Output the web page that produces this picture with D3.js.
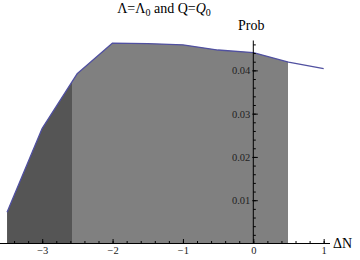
<!DOCTYPE html>
<html lang="en">
  <head>
    <meta charset="utf-8">
    <script src="https://d3js.org/d3.v7.min.js"></script>
    <style>
      body { margin: 0; background: white; }
      text { font-family: "Liberation Serif", "DejaVu Serif", serif; }
    </style>
    <title>Prob vs dN</title>
  </head>
  <body>
    <div id="chart"></div>
  <script>

    // values
    const dN = [-3.5, -3, -2.5, -2, -1.5, -1, -0.5, 0, 0.5, 1];
    const prob = [0.0072, 0.0266, 0.0393, 0.0463, 0.0462, 0.0459, 0.0447, 0.0441, 0.0419, 0.0404];
    const darkRange = [-3.5, -2.57];
    const lightRange = [-2.57, 0.5];
    const xTicks = [-3, -2, -1, 0, 1];
    const yTicks = [0.01, 0.02, 0.03, 0.04];

    const width = 360, height = 260;

    const data = dN.map((d, i) => ({x: d, y: prob[i]}));

    const svg = d3.select("#chart")
      .append("svg")
        .attr("width", width)
        .attr("height", height);

    const x = d3.scaleLinear()
      .domain([-3.6, 1.09])
      .range([0, 330]);

    const y = d3.scaleLinear()
      .domain([0, 0.0469])
      .range([243.5, 40.5]);

    // clip regions for the two shaded bands (snapped to whole pixels so no seam shows)
    const defs = svg.append("defs");
    [["clipDark", darkRange], ["clipLight", lightRange]].forEach(function(c) {
      const x0 = Math.round(x(c[1][0])), x1 = Math.round(x(c[1][1]));
      defs.append("clipPath").attr("id", c[0])
        .append("rect")
          .attr("x", x0)
          .attr("y", 0)
          .attr("width", x1 - x0)
          .attr("height", y(0));
    });

    const area = d3.area()
      .x(d => x(d.x))
      .y0(y(0))
      .y1(d => y(d.y));

    svg.append("path")
      .datum(data)
      .attr("fill", "#555555")
      .attr("clip-path", "url(#clipDark)")
      .attr("d", area);

    svg.append("path")
      .datum(data)
      .attr("fill", "#808080")
      .attr("clip-path", "url(#clipLight)")
      .attr("d", area);

    svg.append("path")
      .datum(data)
      .attr("fill", "none")
      .attr("stroke", "#5050a0")
      .attr("stroke-width", 1.3)
      .attr("stroke-linejoin", "round")
      .attr("d", d3.line()
        .x(d => x(d.x))
        .y(d => y(d.y)));

    // x axis: ticks point up, Mathematica style
    const xMinor = d3.range(-3.4, 1.01, 0.2).map(v => Math.round(v * 10) / 10);
    svg.append("g")
      .attr("transform", `translate(0,${y(0)})`)
      .call(d3.axisBottom(x).tickValues(xMinor).tickSize(-2.5).tickSizeOuter(0).tickFormat(""))
      .call(g => g.select(".domain").attr("d", `M0,0H330`));

    const gx = svg.append("g")
      .attr("transform", `translate(0,${y(0)})`)
      .call(d3.axisBottom(x).tickValues(xTicks).tickSize(-4.5).tickSizeOuter(0).tickPadding(3).tickFormat(d3.format("d")));
    gx.select(".domain").remove();

    // y axis at dN = 0
    const yMinor = d3.range(0.002, 0.0465, 0.002).map(v => Math.round(v * 1000) / 1000);
    svg.append("g")
      .attr("transform", `translate(${x(0)},0)`)
      .call(d3.axisLeft(y).tickValues(yMinor).tickSize(-2.5).tickSizeOuter(0).tickFormat(""))
      .call(g => g.select(".domain").attr("d", `M0,${y(0)}V${y.range()[1]}`));

    const gy = svg.append("g")
      .attr("transform", `translate(${x(0)},0)`)
      .call(d3.axisLeft(y).tickValues(yTicks).tickSize(-4.5).tickSizeOuter(0).tickPadding(3).tickFormat(d3.format(".2f")));
    gy.select(".domain").remove();
    gy.selectAll(".tick line").attr("x1", -1);

    svg.selectAll(".tick text")
      .attr("font-family", "Liberation Serif")
      .style("font-size", "10.5px")
      .attr("fill", "#222");
    svg.selectAll(".domain, .tick line").attr("stroke", "black");

    // labels
    svg.append("text")
      .attr("x", 238)
      .attr("y", 30)
      .style("font-size", "14px")
      .text("Prob");

    svg.append("text")
      .attr("x", 333)
      .attr("y", 248)
      .style("font-size", "14px")
      .text("\u0394N");

    const title = svg.append("text")
      .attr("x", 164)
      .attr("y", 13)
      .attr("text-anchor", "middle")
      .style("font-size", "14px");
    title.append("tspan").text("\u039B=\u039B");
    title.append("tspan").attr("dy", 3).style("font-size", "10px").text("0");
    title.append("tspan").attr("dy", -3).text(" and Q=");
    title.append("tspan").style("font-style", "italic").text("Q");
    title.append("tspan").attr("dy", 3).style("font-size", "10px").text("0");

  </script>
  </body>
</html>
